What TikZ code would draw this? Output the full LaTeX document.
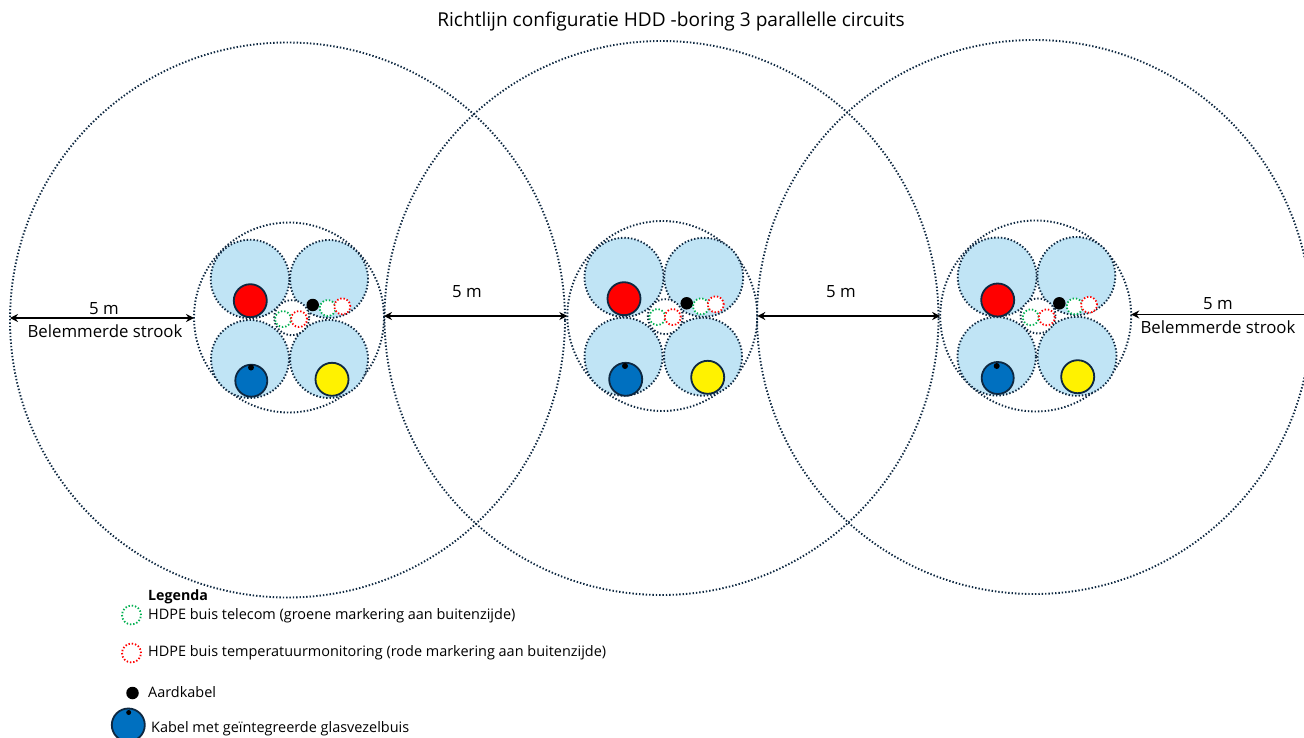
\documentclass[tikz,border=0pt]{standalone}
\usepackage{fontspec}
\setmainfont{Open Sans}
\usetikzlibrary{arrows.meta}
\definecolor{navy}{HTML}{0E2841}
\definecolor{pale}{HTML}{C0E4F5}
\definecolor{cblue}{HTML}{0070C0}
\definecolor{cgreen}{HTML}{00B050}
\tikzset{
  ring/.style={circle,inner sep=0pt,outer sep=0pt,draw=navy,line width=1.9pt,dash pattern=on 1.4pt off 1.95pt},
  bigring/.style={ring,fill=none},
  medring/.style={ring,fill=none},
  duct/.style={ring,fill=pale},
  gap/.style={ring,fill=white},
  cable/.style={circle,inner sep=0pt,outer sep=0pt,draw=navy,line width=1.8pt},
  tubeg/.style={circle,inner sep=0pt,outer sep=0pt,fill=white,draw=cgreen,line width=1.8pt,dash pattern=on 1.4pt off 1.9pt},
  tuber/.style={tubeg,draw=red},
  dot/.style={circle,inner sep=0pt,outer sep=0pt,fill=black},
  dim/.style={{Stealth[length=8pt,width=8pt]}-{Stealth[length=8pt,width=8pt]},line width=1.5pt,black},
  dimleft/.style={{Stealth[length=8pt,width=8pt]}-,line width=1.5pt,black},
  lbl/.style={inner sep=0pt,font=\fontsize{16.8}{19}\selectfont,anchor=center},
  leg/.style={inner sep=0pt,font=\fontsize{14.45}{17}\selectfont,anchor=west}
}
\newcommand{\rnd}[5]{\node[#1,minimum size=#5pt] (#2) at (#3,#4) {};}
\begin{document}
\begin{tikzpicture}[x=1pt,y=-1pt]
\clip (0,0) rectangle (1304,738);
\fill[white] (0,0) rectangle (1304,738);
% big rings
\rnd{bigring}{bigA}{287.5}{320}{555}
\rnd{bigring}{bigB}{661.5}{318}{554}
\rnd{bigring}{bigC}{1034}{317}{554}
% circuit A
\rnd{medring}{medA}{289}{317.5}{190}
\rnd{duct}{tlA}{250}{279}{78.6}
\rnd{duct}{trA}{329}{279}{78}
\rnd{duct}{blA}{250}{359}{78}
\rnd{duct}{brA}{329}{359}{78}
\rnd{gap}{gapA}{291.7}{317.7}{35}
\rnd{cable,fill=red}{redA}{250.3}{300.7}{33}
\rnd{cable,fill=cblue}{blueA}{251.3}{380.7}{32}
\rnd{dot}{fibA}{251}{367.5}{6}
\rnd{cable,fill=yellow}{yelA}{332}{379.3}{33}
\rnd{dot}{earthA}{312.7}{305}{12.5}
\rnd{tubeg}{gupA}{327.7}{308}{16}
\rnd{tuber}{rupA}{342.3}{306.3}{16}
\rnd{tubeg}{gloA}{283}{319}{16}
\rnd{tuber}{rloA}{299}{319}{16}
% circuit B
\rnd{medring}{medB}{662.3}{316}{190}
\rnd{duct}{tlB}{624}{277.3}{79}
\rnd{duct}{trB}{703.7}{277.3}{79}
\rnd{duct}{blB}{623.5}{356.7}{78}
\rnd{duct}{brB}{703}{356.7}{78}
\rnd{gap}{gapB}{665.3}{316.7}{35}
\rnd{cable,fill=red}{redB}{624}{298.7}{33}
\rnd{cable,fill=cblue}{blueB}{625.7}{379.3}{33}
\rnd{dot}{fibB}{625}{366}{6}
\rnd{cable,fill=yellow}{yelB}{707.7}{377.3}{33}
\rnd{dot}{earthB}{686.7}{303.3}{12.5}
\rnd{tubeg}{gupB}{701}{306.3}{16}
\rnd{tuber}{rupB}{715.7}{304.3}{16}
\rnd{tubeg}{gloB}{657.3}{317}{16}
\rnd{tuber}{rloB}{672.7}{317}{16}
% circuit C
\rnd{medring}{medC}{1035.7}{316}{191}
\rnd{duct}{tlC}{997.2}{277}{79}
\rnd{duct}{trC}{1076.3}{276}{78}
\rnd{duct}{blC}{996.7}{356.3}{78.5}
\rnd{duct}{brC}{1077}{356.3}{79}
\rnd{gap}{gapC}{1038}{316}{35}
\rnd{cable,fill=red}{redC}{997.7}{300}{33}
\rnd{cable,fill=cblue}{blueC}{997.7}{378}{32}
\rnd{dot}{fibC}{996.7}{366}{6}
\rnd{cable,fill=yellow}{yelC}{1077.7}{376.7}{33}
\rnd{dot}{earthC}{1059.3}{303.3}{12.5}
\rnd{tubeg}{gupC}{1074.7}{306.3}{16}
\rnd{tuber}{rupC}{1089}{304.7}{16}
\rnd{tubeg}{gloC}{1030.7}{317.3}{16}
\rnd{tuber}{rloC}{1046.7}{317.3}{16}
% dimension lines
\coordinate (yA) at (0,318);
\coordinate (yB) at (0,316);
\coordinate (yC) at (0,314.5);
\coordinate (edge) at (1310,314.5);
\draw[dim] (bigA.west |- yA) -- (medA.west |- yA);
\draw[dim] (medA.east |- yB) -- (medB.west |- yB);
\draw[dim] (medB.east |- yB) -- (medC.west |- yB);
\draw[dimleft] (medC.east |- yC) -- (edge);
% texts
\node[lbl,font=\fontsize{19.1}{22}\selectfont] (title) at (671,21) {Richtlijn configuratie HDD -boring 3 parallelle circuits};
\node[lbl] (m1) at (104,309) {5 m};
\node[lbl] (s1) at (105,331) {Belemmerde strook};
\node[lbl] (m2) at (467,292) {5 m};
\node[lbl] (m3) at (841,292) {5 m};
\node[lbl] (m4) at (1218,304) {5 m};
\node[lbl] (s4) at (1218,327) {Belemmerde strook};
% legend
\node[leg,font=\fontsize{14.2}{17}\selectfont\bfseries] (legt) at (148,597) {Legenda};
\rnd{tubeg}{lg}{131.5}{615}{19}
\node[leg] (lgt) at (148,616) {HDPE buis telecom (groene markering aan buitenzijde)};
\rnd{tuber}{lr}{131.5}{653}{19}
\node[leg] (lrt) at (148,653) {HDPE buis temperatuurmonitoring (rode markering aan buitenzijde)};
\rnd{dot}{le}{132.5}{693}{12.5}
\node[leg] (let) at (148,692) {Aardkabel};
\rnd{cable,fill=cblue}{lb}{128.3}{725}{33}
\rnd{dot}{lf}{128.7}{712.5}{5}
\node[leg] (lbt) at (151,729) {Kabel met geïntegreerde glasvezelbuis};
\end{tikzpicture}
\end{document}
